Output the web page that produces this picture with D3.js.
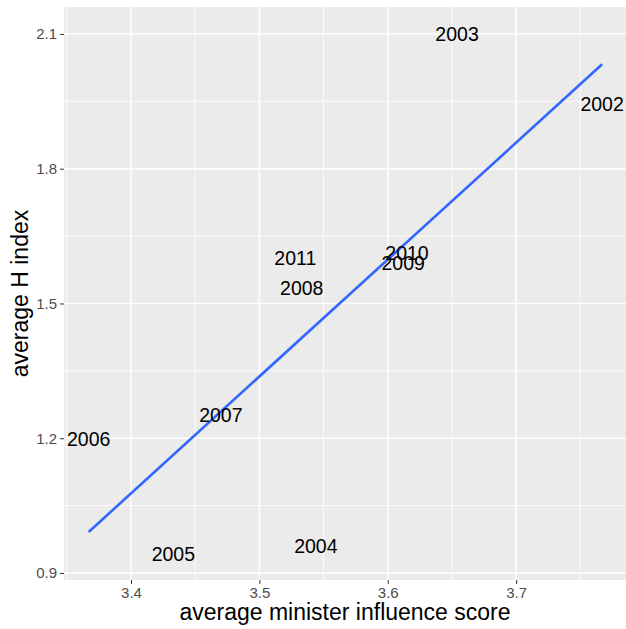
<!DOCTYPE html>
<html>
<head>
<meta charset="utf-8">
<script src="https://cdn.jsdelivr.net/npm/d3@7"></script>
<style>
  body { margin: 0; background: #fff; }
  text { font-family: Arial, "Liberation Sans", sans-serif; }
</style>
</head>
<body>
<svg id="chart" width="626" height="629"></svg>
<script>
// Data
const years = ["2002", "2003", "2004", "2005", "2006", "2007", "2008", "2009", "2010", "2011"];
const influence = [3.767, 3.654, 3.544, 3.433, 3.367, 3.470, 3.533, 3.612, 3.615, 3.528];
const hIndex = [1.944, 2.100, 0.959, 0.942, 1.198, 1.252, 1.535, 1.591, 1.613, 1.602];
const xTicks = [3.4, 3.5, 3.6, 3.7];
const yTicks = [0.9, 1.2, 1.5, 1.8, 2.1];

const points = years.map((y, i) => ({ label: y, x: influence[i], y: hIndex[i] }));

const svg = d3.select("#chart");
const margin = { top: 7, right: 0, bottom: 49, left: 64 };
const width = 626 - margin.left - margin.right;
const height = 629 - margin.top - margin.bottom;

const x = d3.scaleLinear().domain([3.3478, 3.7856]).range([0, width]);
const y = d3.scaleLinear().domain([0.8844, 2.16]).range([height, 0]);

const g = svg.append("g").attr("transform", `translate(${margin.left},${margin.top})`);

// panel background
g.append("rect")
    .attr("width", width)
    .attr("height", height)
    .attr("fill", "#EBEBEB");

// minor gridlines (midpoints between major ticks)
const xMinor = d3.range(xTicks.length + 1).map(i => (i === 0 ? xTicks[0] - 0.05 : xTicks[i - 1] + 0.05));
const yMinor = d3.range(yTicks.length - 1).map(i => (yTicks[i] + yTicks[i + 1]) / 2);

g.selectAll(".xminor").data(xMinor).enter().append("line")
    .attr("x1", d => x(d)).attr("x2", d => x(d))
    .attr("y1", 0).attr("y2", height)
    .attr("stroke", "#fff").attr("stroke-width", 0.8);
g.selectAll(".yminor").data(yMinor).enter().append("line")
    .attr("x1", 0).attr("x2", width)
    .attr("y1", d => y(d)).attr("y2", d => y(d))
    .attr("stroke", "#fff").attr("stroke-width", 0.8);

// major gridlines
g.selectAll(".xmajor").data(xTicks).enter().append("line")
    .attr("x1", d => x(d)).attr("x2", d => x(d))
    .attr("y1", 0).attr("y2", height)
    .attr("stroke", "#fff").attr("stroke-width", 1.6);
g.selectAll(".ymajor").data(yTicks).enter().append("line")
    .attr("x1", 0).attr("x2", width)
    .attr("y1", d => y(d)).attr("y2", d => y(d))
    .attr("stroke", "#fff").attr("stroke-width", 1.6);

// axes
const xAxis = g.append("g")
    .attr("transform", `translate(0,${height})`)
    .call(d3.axisBottom(x).tickValues(xTicks).tickSize(4).tickPadding(3).tickFormat(d3.format(".1f")));
const yAxis = g.append("g")
    .call(d3.axisLeft(y).tickValues(yTicks).tickSize(4).tickPadding(3).tickFormat(d3.format(".1f")));

[xAxis, yAxis].forEach(a => {
    a.select(".domain").remove();
    a.selectAll(".tick line").attr("stroke", "#333").attr("stroke-width", 1);
    a.selectAll(".tick text")
        .attr("fill", "#4D4D4D")
        .style("font-size", "15px")
        .style("font-family", "Arial, 'Liberation Sans', sans-serif");
});

// linear regression (geom_smooth method = "lm")
const mx = d3.mean(influence), my = d3.mean(hIndex);
const slope = d3.sum(points, p => (p.x - mx) * (p.y - my)) / d3.sum(points, p => (p.x - mx) ** 2);
const intercept = my - slope * mx;
const [xmin, xmax] = d3.extent(influence);

g.append("line")
    .attr("x1", x(xmin)).attr("y1", y(intercept + slope * xmin))
    .attr("x2", x(xmax)).attr("y2", y(intercept + slope * xmax))
    .attr("stroke", "#3366FF")
    .attr("stroke-width", 2.6);

// year labels
g.selectAll(".lbl").data(points).enter().append("text")
    .attr("x", d => x(d.x))
    .attr("y", d => y(d.y))
    .attr("text-anchor", "middle")
    .attr("dominant-baseline", "central")
    .style("font-size", "19.5px")
    .attr("fill", "#000")
    .text(d => d.label);

// axis titles
svg.append("text")
    .attr("x", margin.left + width / 2)
    .attr("y", 620)
    .attr("text-anchor", "middle")
    .style("font-size", "23px")
    .attr("fill", "#000")
    .text("average minister influence score");

svg.append("text")
    .attr("transform", `translate(28,${margin.top + height / 2}) rotate(-90)`)
    .attr("text-anchor", "middle")
    .style("font-size", "23px")
    .attr("fill", "#000")
    .text("average H index");
</script>
</body>
</html>
